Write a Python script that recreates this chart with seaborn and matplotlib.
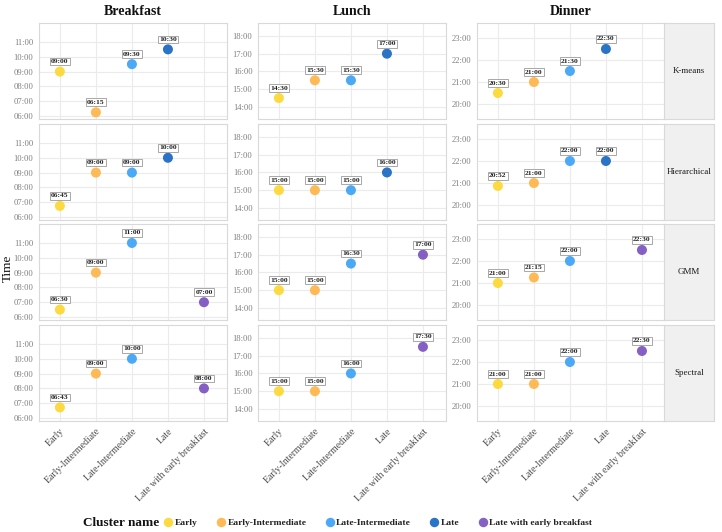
import numpy as np
import pandas as pd
import seaborn as sns
import matplotlib.pyplot as plt
from matplotlib.lines import Line2D

# ---- data (hours as decimals) ----
meals = ['Breakfast', 'Lunch', 'Dinner']
methods = ['K-means', 'Hierarchical', 'GMM', 'Spectral']
clusters = ['Early', 'Early-Intermediate', 'Late-Intermediate', 'Late',
            'Late with early breakfast']
palette = ['#FDD835', '#FFB74D', '#42A5F5', '#1E6CC4', '#7E57C2']

# cluster order per method (None = cluster not found)
breakfast_kmeans = ['09:00', '06:15', '09:30', '10:30', None]
breakfast_hier = ['06:45', '09:00', '09:00', '10:00', None]
breakfast_gmm = ['06:30', '09:00', '11:00', None, '07:00']
breakfast_spec = ['06:43', '09:00', '10:00', None, '08:00']

lunch_kmeans = ['14:30', '15:30', '15:30', '17:00', None]
lunch_hier = ['15:00', '15:00', '15:00', '16:00', None]
lunch_gmm = ['15:00', '15:00', '16:30', None, '17:00']
lunch_spec = ['15:00', '15:00', '16:00', None, '17:30']

dinner_kmeans = ['20:30', '21:00', '21:30', '22:30', None]
dinner_hier = ['20:52', '21:00', '22:00', '22:00', None]
dinner_gmm = ['21:00', '21:15', '22:00', None, '22:30']
dinner_spec = ['21:00', '21:00', '22:00', None, '22:30']

table = {
    'Breakfast': [breakfast_kmeans, breakfast_hier, breakfast_gmm, breakfast_spec],
    'Lunch': [lunch_kmeans, lunch_hier, lunch_gmm, lunch_spec],
    'Dinner': [dinner_kmeans, dinner_hier, dinner_gmm, dinner_spec],
}

y_ticks = {
    'Breakfast': list(range(6, 12)),
    'Lunch': list(range(14, 19)),
    'Dinner': list(range(20, 24)),
}
y_lims = {
    'Breakfast': (5.8, 12.28),
    'Lunch': (13.32, 18.73),
    'Dinner': (19.32, 23.68),
}

rows = []
for meal in meals:
    for method, vals in zip(methods, table[meal]):
        for cl, v in zip(clusters, vals):
            if v is None:
                continue
            h, m = v.split(':')
            rows.append({'meal': meal, 'method': method, 'cluster': cl,
                         'label': v, 'hour': int(h) + int(m) / 60})
df = pd.DataFrame(rows)
df['x'] = df['cluster'].map({c: i for i, c in enumerate(clusters)})

# ---- style ----
sns.set_theme(style='white')
plt.rcParams['font.family'] = ['Liberation Serif', 'DejaVu Serif']

W, H = 722, 532
fig = plt.figure(figsize=(W / 100, H / 100), dpi=100)

col_left = [39, 258, 477]
col_w = 188
row_top = [23, 124, 224, 325]
row_h = 96
border = '#D9D9D9'
grid = '#EBEBEB'

for ci, meal in enumerate(meals):
    for ri, method in enumerate(methods):
        ax = fig.add_axes([col_left[ci] / W, 1 - (row_top[ri] + row_h) / H,
                           col_w / W, row_h / H])
        sub = df[(df.meal == meal) & (df.method == method)]
        ax.set_axisbelow(True)
        sns.scatterplot(data=sub, x='x', y='hour', hue='cluster',
                        hue_order=clusters, palette=palette, s=52,
                        linewidth=0, alpha=0.95, legend=False, ax=ax, zorder=3)
        for _, r in sub.iterrows():
            ax.annotate(r['label'], (r['x'], r['hour']), xytext=(0, 7.2),
                        textcoords='offset points', ha='center', va='center',
                        fontsize=5.4, fontweight='bold', color='#222222', zorder=4,
                        bbox=dict(boxstyle='square,pad=0.18', fc='white',
                                  ec='#9A9A9A', lw=0.6))
        ax.set_xlim(-0.58, 4.64)
        ax.set_ylim(*y_lims[meal])
        ax.set_xticks(range(len(clusters)))
        ax.set_yticks(y_ticks[meal])
        ax.set_yticklabels([f'{h:02d}:00' for h in y_ticks[meal]])
        ax.grid(True, color=grid, lw=0.8)
        for s in ax.spines.values():
            s.set_color(border)
            s.set_linewidth(0.8)
        ax.tick_params(axis='both', length=2, width=0.6, color='#B3B3B3',
                       labelsize=6.2, labelcolor='#808080', pad=2)
        ax.set_xlabel('')
        ax.set_ylabel('')
        if ri == len(methods) - 1:
            ax.set_xticklabels(clusters, rotation=45, ha='right',
                               rotation_mode='anchor',
                               fontsize=7, color='#4D4D4D')
        else:
            ax.set_xticklabels([])
            ax.tick_params(axis='x', length=0)
        if ri == 0:
            ax.set_title(meal, fontsize=10, fontweight='bold', pad=6,
                         color='#111111')

# row strips on the right
for ri, method in enumerate(methods):
    sax = fig.add_axes([664 / W, 1 - (row_top[ri] + row_h) / H, 50 / W, row_h / H])
    sax.set_facecolor('#F0F0F0')
    sax.set_xticks([])
    sax.set_yticks([])
    for s in sax.spines.values():
        s.set_color(border)
        s.set_linewidth(0.8)
    sax.text(0.5, 0.5, method, ha='center', va='center', fontsize=6.5,
             color='#1A1A1A', transform=sax.transAxes)

fig.text(8 / W, 1 - 268 / H, 'Time', rotation=90, ha='center', va='center',
         fontsize=9.5, color='#111111')

# legend
handles = [Line2D([], [], marker='o', ls='', markersize=6.8, markerfacecolor=c,
                  markeredgewidth=0, alpha=0.95) for c in palette]
fig.text(159 / W, 1 - 523 / H, 'Cluster name', ha='right', va='center',
         fontsize=9.5, fontweight='bold', color='#111111')
leg = fig.legend(handles, clusters, loc='center left', ncol=5, frameon=False,
                 bbox_to_anchor=(164 / W, 1 - 523 / H),
                 prop={'size': 6.8, 'weight': 'bold'},
                 handletextpad=0.25, columnspacing=2.0, handlelength=0.9,
                 borderaxespad=0, borderpad=0)
for t in leg.get_texts():
    t.set_color('#222222')

fig.savefig('out.png', dpi=100)
